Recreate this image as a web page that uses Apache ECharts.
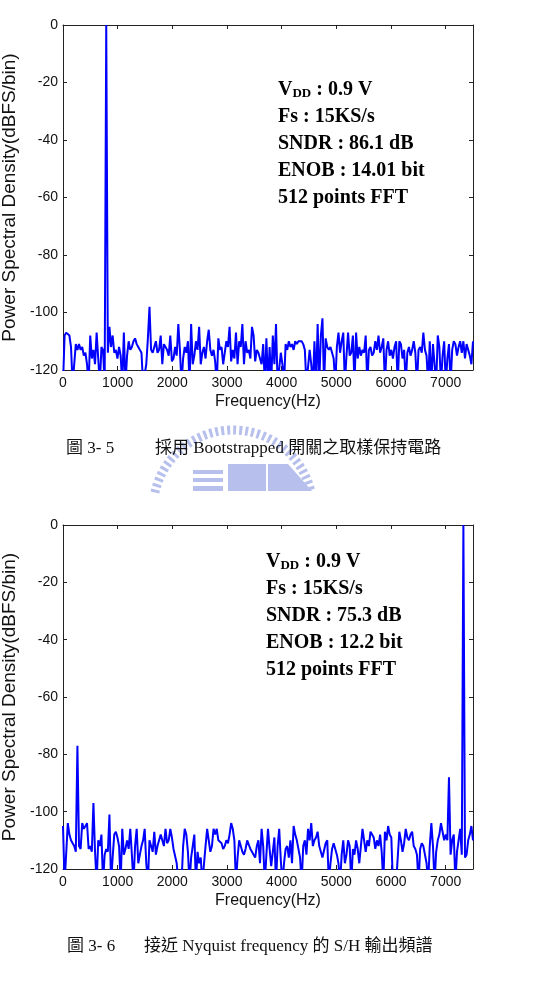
<!DOCTYPE html>
<html>
<head>
<meta charset="utf-8">
<script src="https://cdn.jsdelivr.net/npm/echarts@6/dist/echarts.min.js"></script>
<style>
  html, body { margin: 0; padding: 0; background: #fff; }
  #chart { width: 559px; height: 986px; }
</style>
</head>
<body>
<div id="chart"></div>
<script>
// FFT bin spacing: Fs = 15 kS/s, 512 point FFT
const fs = 15000;
const nfft = 512;

const yTicks = [0, -20, -40, -60, -80, -100, -120];
const xTicks = [0, 1000, 2000, 3000, 4000, 5000, 6000, 7000];

// -125 means the trace drops below the -120 floor of the axis
const psdBootstrapped = [
  -125, -108, -107, -107, -108, -112, -125, -125, -111, -113,
  -111, -113, -112, -115, -114, -118, -125, -108, -116, -113,
  -118, -107, -116, -125, -112, -113, -125, 0, -114, -105,
  -112, -108, -114, -113, -116, -112, -115, -125, -107, -125,
  -115, -110, -113, -112, -110, -109, -111, -112, -113, -114,
  -125, -125, -118, -109, -98, -113, -114, -112, -110, -114,
  -113, -108, -118, -111, -112, -113, -115, -108, -117, -116,
  -112, -115, -104, -113, -125, -116, -112, -114, -110, -125,
  -104, -118, -115, -110, -113, -105, -118, -114, -112, -116,
  -110, -106, -113, -115, -113, -117, -125, -109, -113, -112,
  -118, -114, -110, -112, -105, -117, -113, -116, -107, -118,
  -110, -112, -104, -118, -110, -114, -113, -116, -105, -108,
  -117, -113, -114, -116, -118, -111, -125, -109, -125, -112,
  -125, -108, -118, -104, -125, -125, -114, -118, -125, -111,
  -113, -110, -112, -111, -113, -110, -111, -110, -110, -110,
  -111, -113, -125, -125, -113, -118, -125, -110, -125, -104,
  -125, -108, -102, -125, -109, -112, -113, -112, -114, -116,
  -125, -112, -107, -114, -110, -107, -125, -115, -107, -115,
  -114, -108, -125, -107, -116, -112, -115, -113, -114, -108,
  -125, -113, -112, -115, -114, -110, -113, -108, -114, -112,
  -109, -125, -113, -110, -115, -113, -116, -112, -110, -125,
  -110, -111, -116, -113, -125, -114, -112, -115, -113, -110,
  -114, -125, -113, -112, -114, -107, -113, -115, -125, -110,
  -125, -111, -118, -125, -108, -112, -125, -115, -110, -125,
  -116, -111, -125, -113, -110, -111, -115, -112, -110, -114,
  -110, -116, -111, -113, -115, -118, -110
];

const psdNyquist = [
  -105, -125, -125, -104, -108, -110, -111, -112, -114, -77,
  -112, -113, -104, -106, -106, -104, -113, -112, -114, -97,
  -114, -125, -110, -112, -108, -125, -115, -113, -114, -101,
  -125, -116, -108, -107, -109, -112, -125, -106, -115, -113,
  -110, -113, -106, -115, -125, -112, -106, -118, -115, -112,
  -110, -106, -118, -125, -110, -112, -114, -107, -115, -112,
  -110, -108, -110, -112, -106, -111, -110, -106, -109, -113,
  -113, -118, -125, -125, -125, -112, -106, -108, -114, -125,
  -116, -112, -108, -125, -114, -118, -116, -125, -125, -112,
  -106, -110, -114, -112, -106, -108, -106, -110, -110, -111,
  -113, -112, -110, -111, -108, -104, -106, -110, -125, -116,
  -110, -112, -114, -115, -113, -110, -110, -113, -114, -115,
  -116, -112, -110, -118, -106, -112, -125, -115, -106, -113,
  -119, -114, -109, -125, -112, -106, -117, -125, -118, -113,
  -112, -116, -110, -118, -105, -108, -110, -113, -116, -125,
  -112, -110, -115, -106, -110, -104, -112, -110, -109, -107,
  -112, -114, -116, -116, -111, -110, -125, -118, -113, -111,
  -113, -115, -118, -125, -115, -110, -118, -115, -110, -112,
  -125, -113, -115, -110, -113, -118, -112, -106, -110, -114,
  -110, -112, -107, -108, -109, -113, -110, -112, -108, -114,
  -125, -107, -110, -105, -108, -109, -125, -125, -125, -125,
  -107, -110, -114, -111, -106, -109, -110, -108, -107, -112,
  -113, -115, -125, -113, -111, -112, -112, -118, -125, -112,
  -104, -112, -125, -114, -110, -108, -104, -107, -110, -108,
  -110, -88, -115, -110, -108, -125, -114, -110, -106, -115,
  0, -116, -115, -110, -108, -105, -110
];

const notes1 = ['0.9 V', '15KS/s', '86.1 dB', '14.01 bit'];
const notes2 = ['0.9 V', '15KS/s', '75.3 dB', '12.2 bit'];

const binHz = fs / nfft;
const toPairs = arr => arr.map((v, i) => [i * binHz, v]);

const axisColor = '#222';
const sans = 'Liberation Sans, Arial, sans-serif';
const serif = 'Liberation Serif, Times New Roman, serif';

function xAxes(gridIndex) {
  const base = {
    type: 'value', gridIndex: gridIndex, min: 0, max: 7500, interval: 1000,
    splitLine: { show: false },
    axisLine: { show: true, onZero: false, lineStyle: { color: axisColor, width: 1 } },
    axisTick: { show: true, inside: true, length: 4, lineStyle: { color: axisColor } }
  };
  return [
    Object.assign({}, base, {
      position: 'bottom',
      name: 'Frequency(Hz)', nameLocation: 'middle', nameGap: 24,
      nameTextStyle: { color: '#111', fontSize: 16, fontFamily: sans },
      axisLabel: {
        color: '#111', fontSize: 14, fontFamily: sans, margin: 6,
        formatter: v => (xTicks.indexOf(v) >= 0 ? String(v) : '')
      }
    }),
    Object.assign({}, base, { position: 'top', axisLabel: { show: false } })
  ];
}

function yAxes(gridIndex) {
  const base = {
    type: 'value', gridIndex: gridIndex, min: -120, max: 0, interval: 20,
    splitLine: { show: false },
    axisLine: { show: true, onZero: false, lineStyle: { color: axisColor, width: 1 } },
    axisTick: { show: true, inside: true, length: 4, lineStyle: { color: axisColor } }
  };
  return [
    Object.assign({}, base, {
      position: 'left',
      name: 'Power Spectral Density(dBFS/bin)', nameLocation: 'middle', nameGap: 41,
      nameTextStyle: { color: '#111', fontSize: 19, fontFamily: sans },
      axisLabel: {
        color: '#111', fontSize: 14, fontFamily: sans, margin: 5,
        formatter: v => (yTicks.indexOf(v) >= 0 ? String(v) : '')
      }
    }),
    Object.assign({}, base, { position: 'right', axisLabel: { show: false } })
  ];
}

const rich = {
  b: { fontFamily: serif, fontWeight: 'bold', fontSize: 20, color: '#000', lineHeight: 27 },
  sub: { fontFamily: serif, fontWeight: 'bold', fontSize: 13, color: '#000', lineHeight: 27, padding: [9, 0, 0, 0] }
};

function noteText(n) {
  return '{b|V}{sub|DD}{b| : ' + n[0] + '}\n' +
    '{b|Fs : ' + n[1] + '}\n' +
    '{b|SNDR : ' + n[2] + '}\n' +
    '{b|ENOB : ' + n[3] + '}\n' +
    '{b|512 points FFT}';
}

const capStyle = { fontFamily: 'Liberation Serif, Noto Sans CJK TC, serif', fontSize: 17, fontWeight: 'normal', color: '#111' };

// faint university logo watermark behind the first caption
const wmColor = '#b7c0ec';
const watermark = [
  {
    type: 'arc', z: 0, silent: true,
    shape: { cx: 233, cy: 510, r: 80, startAngle: Math.PI * 1.07, endAngle: Math.PI * 1.93 },
    style: { stroke: wmColor, lineWidth: 9, fill: null, lineDash: [3, 3] }
  },
  { type: 'rect', z: 0, silent: true, shape: { x: 193, y: 470, width: 30, height: 4 }, style: { fill: wmColor } },
  { type: 'rect', z: 0, silent: true, shape: { x: 193, y: 478, width: 30, height: 4 }, style: { fill: wmColor } },
  { type: 'rect', z: 0, silent: true, shape: { x: 193, y: 486, width: 30, height: 5 }, style: { fill: wmColor } },
  { type: 'rect', z: 0, silent: true, shape: { x: 228, y: 464, width: 38, height: 27 }, style: { fill: wmColor } },
  {
    type: 'polygon', z: 0, silent: true,
    shape: { points: [[268, 464], [288, 464], [312, 491], [268, 491]] },
    style: { fill: wmColor }
  }
];

const chart = echarts.init(document.getElementById('chart'), null, { renderer: 'canvas' });

chart.setOption({
  animation: false,
  backgroundColor: '#fff',
  graphic: watermark,
  title: [
    { text: noteText(notes1), left: 278, top: 76, padding: 0, textStyle: { rich: rich } },
    { text: noteText(notes2), left: 266, top: 548, padding: 0, textStyle: { rich: rich } },
    { text: '圖 3- 5', left: 66, top: 440, padding: 0, textStyle: capStyle },
    { text: '採用 Bootstrapped 開關之取樣保持電路', left: 155, top: 440, padding: 0, textStyle: capStyle },
    { text: '圖 3- 6', left: 67, top: 938, padding: 0, textStyle: capStyle },
    { text: '接近 Nyquist frequency 的 S/H 輸出頻譜', left: 144, top: 938, padding: 0, textStyle: capStyle }
  ],
  grid: [
    { left: 63, top: 25, width: 410, height: 345, outerBoundsMode: 'none' },
    { left: 63, top: 525, width: 410, height: 344, outerBoundsMode: 'none' }
  ],
  xAxis: xAxes(0).concat(xAxes(1)),
  yAxis: yAxes(0).concat(yAxes(1)),
  series: [
    {
      type: 'line', xAxisIndex: 0, yAxisIndex: 0, data: toPairs(psdBootstrapped),
      showSymbol: false, clip: true, silent: true,
      lineStyle: { color: '#0000ff', width: 2 }, itemStyle: { color: '#0000ff' }
    },
    {
      type: 'line', xAxisIndex: 2, yAxisIndex: 2, data: toPairs(psdNyquist),
      showSymbol: false, clip: true, silent: true,
      lineStyle: { color: '#0000ff', width: 2 }, itemStyle: { color: '#0000ff' }
    }
  ]
});
</script>
</body>
</html>
